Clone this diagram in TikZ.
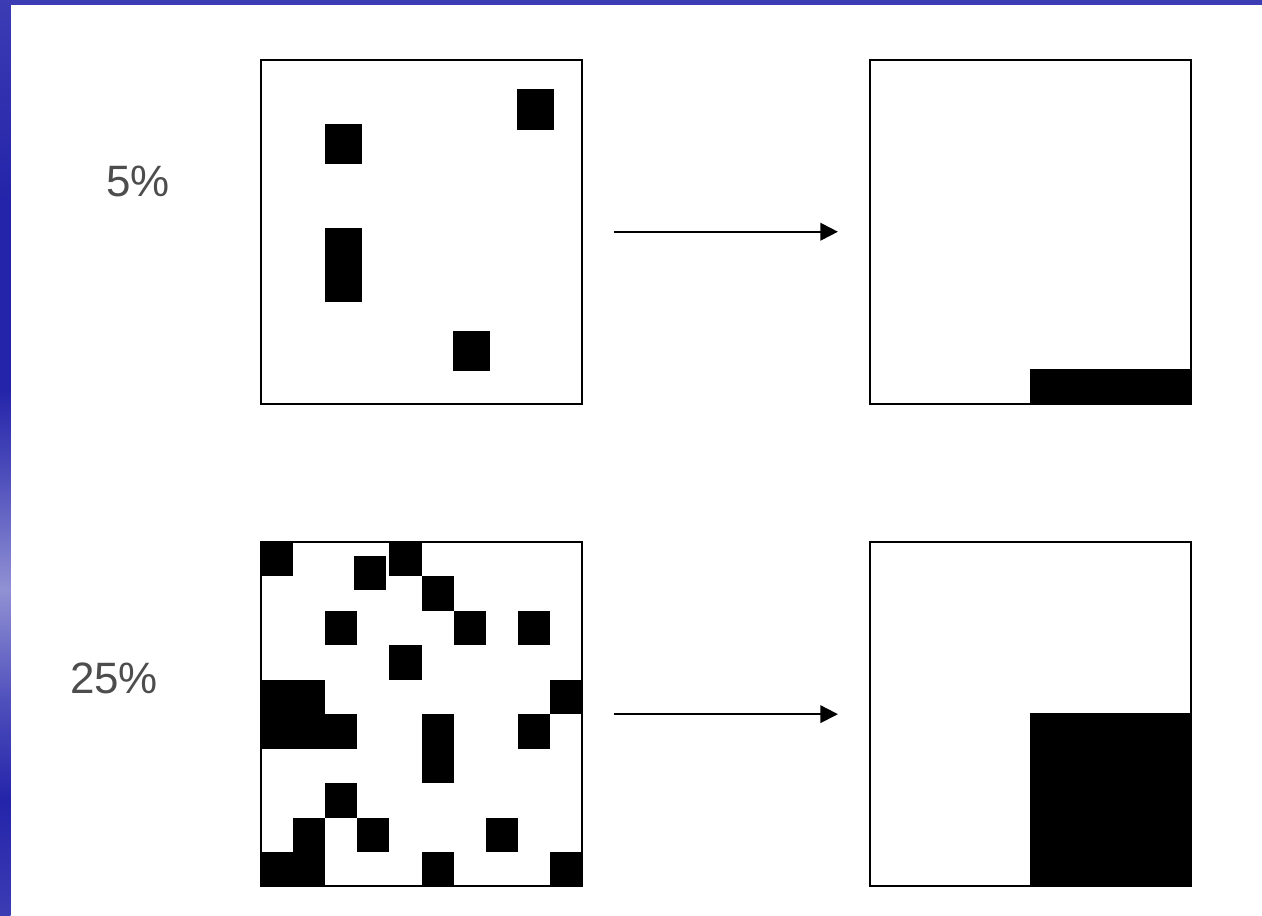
\documentclass[tikz,border=0pt]{standalone}
\usepackage{fontspec}
\setmainfont{Liberation Sans}
\usetikzlibrary{arrows.meta, positioning}
\definecolor{barblue}{RGB}{36, 36, 170}
\definecolor{barmid}{RGB}{80, 80, 188}
\definecolor{barlite}{RGB}{145, 145, 212}
\definecolor{topblue}{RGB}{60, 60, 180}
\definecolor{labelgray}{RGB}{77, 77, 77}
\tikzset{
  frame/.style={rectangle, draw=black, line width=1.1pt, fill=white,
                minimum width=6.42cm, minimum height=6.89cm, inner sep=0pt, outer sep=0pt},
  flow/.style={-{Triangle[length=10pt, width=10pt]}, line width=1.1pt},
  pct/.style={font=\fontsize{25}{30}\selectfont, text=labelgray, inner sep=0pt},
}
\begin{document}
\begin{tikzpicture}[x=0.02cm, y=-0.02cm]
        \def\cw{32.1} \def\ch{34.5}
        \useasboundingbox (0,0) rectangle (1262,916);

        % Side bar
        \fill[topblue] (0,0) rectangle (1262,5);
        \foreach \ya/\yb/\ca/\cb in {0/200/topblue/barblue, 199/390/barblue/barblue,
            389/480/barblue/barmid, 479/590/barmid/barlite, 589/700/barlite/barmid,
            699/800/barmid/barblue, 799/916/barblue/topblue}
          \shade[top color=\ca, bottom color=\cb] (0,\ya) rectangle (10.5,\yb);

        % Boxes
        \node[frame] (sparse) at (421.5, 231.75) {};
        \node[frame, right=5.76cm of sparse] (sparseout) {};
        \node[frame, below=2.76cm of sparse] (dense) {};
        \node[frame, right=5.76cm of dense] (denseout) {};

        % Labels
        \node[pct] (lowpct) at (138, 181) {5\%};
        \node[pct] (highpct) at (114, 678) {25\%};

        % 5% cells
        \foreach \x/\y/\h in {325/124/40, 517/89/41, 325/228/74, 453/331/40}
          \fill (\x, \y) rectangle ++(37, \h);

        % 25% cells
        \foreach \c/\r in {0/0, 4/0, 2.9/0.4, 5/1, 2/2, 6/2, 8/2, 4/3, 0/4, 1/4, 9/4,
            0/5, 1/5, 2/5, 5/5, 8/5, 5/6, 2/7, 1/8, 3/8, 7/8, 0/9, 1/9, 5/9, 9/9}
          \fill ({261+\c*\cw}, {541.7+\r*\ch}) rectangle ++(\cw, \ch);

        % Sorted
        \fill ([xshift=-3.22cm]sparseout.south east) rectangle ([yshift=0.7cm]sparseout.south east);
        \fill ([xshift=-3.22cm]denseout.south east) rectangle ([yshift=3.47cm]denseout.south east);

        % Arrows
        \draw[flow] ([xshift=0.64cm]sparse.east) -- ([xshift=-0.64cm]sparseout.west);
        \draw[flow] ([xshift=0.64cm]dense.east) -- ([xshift=-0.64cm]denseout.west);
      \end{tikzpicture}
\end{document}
